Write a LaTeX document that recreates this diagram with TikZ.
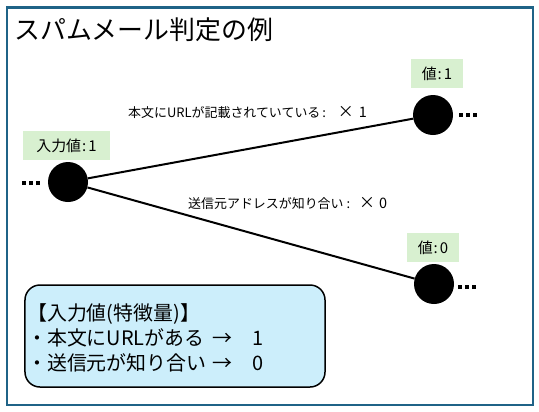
\documentclass[tikz,border=0pt]{standalone}
\usepackage{fontspec}
\newfontfamily\jp{Noto Sans CJK JP}
\definecolor{frame}{RGB}{31,99,135}
\definecolor{lgreen}{RGB}{216,240,208}
\definecolor{lblue}{RGB}{204,238,251}
\newcommand{\sqdots}{\rule{4bp}{4bp}\hspace{3bp}\rule{4bp}{4bp}\hspace{3bp}\rule{4bp}{4bp}}
\newcommand{\cln}{\hspace{1bp}:\hspace{2bp}}
\newcommand{\bigx}{{\fontsize{16}{16}\selectfont ×}}
\newcommand{\bign}[1]{{\fontsize{14.5}{16}\selectfont #1}}
\begin{document}
\begin{tikzpicture}[x=1bp,y=-1bp,
  dot/.style={circle,fill=black,minimum size=40bp,inner sep=0pt},
  val/.style={fill=lgreen,minimum height=29bp,inner sep=0pt,font=\jp\fontsize{15}{17}\selectfont},
  ell/.style={inner sep=0pt},
  elab/.style={inner sep=0pt,font=\jp\fontsize{13}{15}\selectfont},
  edge/.style={line width=2bp}]
\useasboundingbox (0,0) rectangle (539,411);
\draw[frame,line width=2.5bp] (7,7.5) rectangle (533,405);
\node[anchor=west,inner sep=0pt,font=\jp\fontsize{26}{28}\selectfont] (title) at (14,30) {スパムメール判定の例};

\node[dot] (in) at (68,182) {};
\node[dot] (top) at (433,115) {};
\node[dot] (bot) at (434,284) {};

\node[val,minimum width=87bp] (inlab) at (66.5,145.5) {入力値\cln 1};
\node[val,minimum width=52bp] (toplab) at (437,73.5) {値\cln 1};
\node[val,minimum width=52bp] (botlab) at (433,247.5) {値\cln 0};

\node[ell] (e0) at (31,183) {\sqdots};
\node[ell] (e1) at (468,115) {\sqdots};
\node[ell] (e2) at (467,287) {\sqdots};

\draw[edge] (in) -- (top);
\draw[edge] (in) -- (bot);

\node[elab,anchor=west] (l1) at (128,112) {本文にURLが記載されていている\hspace{2bp}:\hspace{12bp}\bigx\hspace{5bp}\bign{1}};
\node[elab,anchor=west] (l2) at (188,203) {送信元アドレスが知り合い\hspace{3bp}:\hspace{9bp}\bigx\hspace{4bp}\bign{0}};

\node[draw=black,line width=1.5bp,fill=lblue,rounded corners=15bp,minimum width=300bp,minimum height=102bp] (legend) at (175,336) {};
\node[anchor=west,inner sep=0pt,align=left,font=\jp\fontsize{20}{25}\selectfont] (legtext) at (27,338)
  {【入力値(特徴量)】\\\makebox[185bp][l]{・本文にURLがある}\makebox[40bp][l]{→}1\\\makebox[185bp][l]{・送信元が知り合い}\makebox[40bp][l]{→}0};
\end{tikzpicture}
\end{document}
